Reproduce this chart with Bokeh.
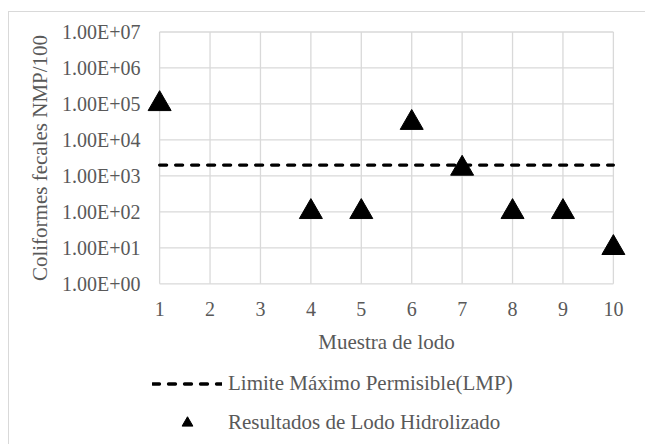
from bokeh.plotting import figure
from bokeh.layouts import column
from bokeh.models import FixedTicker, CustomJSTickFormatter, Legend, LegendItem, Range1d
from bokeh.embed import file_html
from bokeh.resources import INLINE

# ---- data ----
muestra = [1, 4, 5, 6, 7, 8, 9, 10]
coliformes = [1e5, 100, 100, 3e4, 1600, 100, 100, 10]
lmp_x = [1, 2, 3, 4, 5, 6, 7, 8, 9, 10]
lmp_y = [2000, 2000, 2000, 2000, 2000, 2000, 2000, 2000, 2000, 2000]
x_ticks = [1, 2, 3, 4, 5, 6, 7, 8, 9, 10]
y_ticks = [1, 10, 100, 1000, 10000, 100000, 1000000, 10000000]
lmp_label = "Limite Máximo Permisible(LMP)"
pts_label = "Resultados de Lodo Hidrolizado"

FONT = "Liberation Serif"
TXT = "#595959"
GRID = "#d9d9d9"
YTICK_FS = "20px"
XTICK_FS = "20px"
LAB_FS = "21px"
DASH = "7 9"

fig = figure(frame_width=484, frame_height=255, x_range=(0.7, 10.3),
             y_range=(0.9, 1.1e7), y_axis_type="log", output_backend="svg",
             toolbar_location=None, min_border_left=135, min_border_right=17,
             min_border_top=18, min_border_bottom=78)
fig.outline_line_color = None
fig.xgrid.visible = False
fig.ygrid.visible = False

# grid drawn within the data extent
fig.segment(x0=x_ticks, x1=x_ticks, y0=y_ticks[0], y1=y_ticks[-1],
            line_color=GRID, line_width=1.3)
fig.segment(x0=x_ticks[0], x1=x_ticks[-1], y0=y_ticks, y1=y_ticks,
            line_color=GRID, line_width=1.3)

fig.line(lmp_x, lmp_y, line_color="black", line_width=3.3, line_dash=DASH,
         line_cap="round")
fig.scatter(muestra, coliformes, marker="triangle", size=23,
            fill_color="black", line_color="black")

# axes
fig.xaxis.ticker = FixedTicker(ticks=x_ticks)
fig.xaxis.axis_line_color = None
fig.xaxis.major_tick_line_color = None
fig.xaxis.minor_tick_line_color = None
fig.xaxis.major_tick_out = 0
fig.xaxis.major_label_standoff = 16
fig.xaxis.axis_label = "Muestra de lodo"
fig.xaxis.axis_label_standoff = 11

fig.yaxis.ticker = FixedTicker(ticks=y_ticks, minor_ticks=[])
fig.yaxis.formatter = CustomJSTickFormatter(code="""
var s = tick.toExponential(2).toUpperCase();
return s.replace(/E([+-])(\\d)$/, 'E$10$2');
""")
fig.yaxis.axis_line_color = None
fig.yaxis.major_tick_line_color = None
fig.yaxis.minor_tick_line_color = None
fig.yaxis.major_tick_out = 0
fig.yaxis.major_label_standoff = 4
fig.yaxis.axis_label = "Coliformes fecales NMP/100"
fig.yaxis.axis_label_standoff = 7

for ax, fs in ((fig.xaxis[0], XTICK_FS), (fig.yaxis[0], YTICK_FS)):
    ax.major_label_text_font = FONT
    ax.major_label_text_font_size = fs
    ax.major_label_text_color = TXT
    ax.axis_label_text_font = FONT
    ax.axis_label_text_font_size = LAB_FS
    ax.axis_label_text_color = TXT
    ax.axis_label_text_font_style = "normal"

# legend strip under the chart (its renderers hold the same series, kept out of view)
leg_fig = figure(frame_width=636, frame_height=81, min_border=0,
                 x_range=Range1d(-2, -1), y_range=Range1d(-2, -1),
                 x_axis_location=None, y_axis_location=None,
                 toolbar_location=None, output_backend="svg")
leg_fig.outline_line_color = None
leg_fig.grid.visible = False
r_lmp = leg_fig.line(lmp_x, lmp_y, line_color="black", line_width=3.3,
                     line_dash=DASH, line_cap="round")
r_pts = leg_fig.scatter(muestra, coliformes, marker="triangle",
                        fill_color="black", line_color="black")

legend = Legend(items=[
    LegendItem(label=lmp_label, renderers=[r_lmp]),
    LegendItem(label=pts_label, renderers=[r_pts]),
], location=(143, 8), orientation="vertical")
legend.padding = 0
legend.margin = 0
legend.spacing = 12
legend.glyph_width = 70
legend.glyph_height = 27
legend.label_height = 27
legend.label_standoff = 6
legend.border_line_color = None
legend.background_fill_color = None
legend.background_fill_alpha = 0
legend.label_text_font = FONT
legend.label_text_font_size = LAB_FS
legend.label_text_color = TXT
leg_fig.add_layout(legend, "center")

p = column(fig, leg_fig, spacing=0,
           styles={"border-top": "1px solid #d9d9d9",
                   "border-left": "1px solid #d9d9d9",
                   "margin-top": "11px", "margin-left": "8px"})

open("out.html", "w").write(file_html(p, INLINE))
